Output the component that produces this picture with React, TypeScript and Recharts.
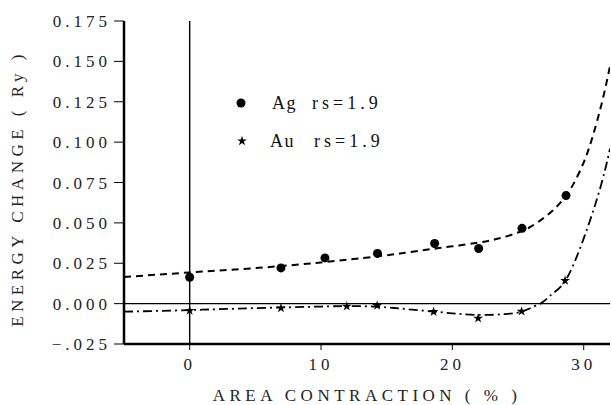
import { ComposedChart, Line, Scatter, XAxis, YAxis, ReferenceLine, Symbols } from "recharts";

// measured points
const agX = [0, 6.95, 10.3, 14.3, 18.65, 22.0, 25.3, 28.65];
const agY = [0.0163, 0.0221, 0.0283, 0.0311, 0.0372, 0.0341, 0.0466, 0.0669];
const auX = [0, 6.95, 11.96, 14.27, 18.57, 21.96, 25.27, 28.58];
const auY = [-0.0043, -0.0027, -0.0017, -0.0012, -0.005, -0.0091, -0.0048, 0.0142];

// fitted curves
const agFitX = [-5, 0, 5, 10, 14, 16, 18, 20, 22, 23.5, 25, 26, 27, 28, 29, 30, 30.7, 31.4, 32];
const agFitY = [0.0165, 0.0193, 0.022, 0.0255, 0.029, 0.031, 0.0333, 0.0355, 0.0378, 0.0403, 0.044, 0.0478, 0.0533, 0.0605, 0.071, 0.0875, 0.104, 0.125, 0.147];
const auFitX = [-5, 0, 5, 10, 12, 14, 16, 18, 20, 22, 24, 25.3, 26, 26.8, 27.6, 28.6, 29.8, 30.9, 31.6, 32];
const auFitY = [-0.005, -0.004, -0.0028, -0.0018, -0.0015, -0.0018, -0.003, -0.0045, -0.006, -0.007, -0.0065, -0.005, -0.0025, 0.0005, 0.006, 0.0142, 0.036, 0.062, 0.082, 0.096];

const xTicks = [0, 10, 20, 30];
const yTicks = [-0.025, 0, 0.025, 0.05, 0.075, 0.1, 0.125, 0.15, 0.175];

const zip = (xs: number[], ys: number[]) => xs.map((x, i) => ({ x, y: ys[i] }));
const agPts = zip(agX, agY);
const auPts = zip(auX, auY);
const agFit = zip(agFitX, agFitY);
const auFit = zip(auFitX, auFitY);

const font = "'Liberation Serif', 'DejaVu Serif', serif";
const tickStyle = { fill: "#222", fontSize: 17, fontFamily: font, letterSpacing: 4 };
const titleStyle = { fill: "#222", fontSize: 17, fontFamily: font, letterSpacing: 4.5 };

function fmtY(v: number) {
  if (v < 0) return "\u2212" + v.toFixed(3).replace("-0", "");
  return v.toFixed(3);
}

function LegendBox() {
  const row = { display: "flex", alignItems: "center", height: 38, fontFamily: font, fontSize: 18, color: "#111" };
  return (
    <div style={{ position: "absolute", left: 232, top: 84 }}>
      <div style={row}>
        <svg width={40} height={20}><circle cx={9} cy={10} r={4.5} fill="#000" /></svg>
        <span style={{ letterSpacing: 1.5, width: 40 }}>Ag</span>
        <span style={{ letterSpacing: 4 }}>rs=1.9</span>
      </div>
      <div style={row}>
        <svg width={38} height={20}><Symbols cx={10} cy={10} type="star" size={30} fill="#000" /></svg>
        <span style={{ letterSpacing: 1.5, width: 44 }}>Au</span>
        <span style={{ letterSpacing: 4 }}>rs=1.9</span>
      </div>
    </div>
  );
}

export default function App() {
  return (
    <div style={{ position: "absolute", left: 0, top: 0, width: 611, height: 405, background: "#fff" }}>
      <ComposedChart width={611} height={405} margin={{ top: 21, right: 1, left: 0, bottom: 0 }}>
        <XAxis
          xAxisId="b"
          type="number"
          dataKey="x"
          domain={[-5, 32]}
          ticks={xTicks}
          allowDataOverflow
          height={61}
          tick={tickStyle}
          tickSize={6}
          tickMargin={8}
          axisLine={{ stroke: "#000", strokeWidth: 2.5 }}
          tickLine={{ stroke: "#000" }}
          label={{ value: "AREA CONTRACTION ( % )", position: "insideBottom", offset: 4, style: titleStyle }}
        />
        <XAxis xAxisId="t" type="number" orientation="top" domain={[-5, 32]} height={0} tick={false} tickLine={false} axisLine={{ stroke: "#000", strokeWidth: 2.5 }} />
        <YAxis
          yAxisId="l"
          type="number"
          domain={[-0.025, 0.175]}
          ticks={yTicks}
          allowDataOverflow
          width={124}
          tick={tickStyle}
          tickFormatter={fmtY}
          tickSize={10}
          tickMargin={3}
          axisLine={{ stroke: "#000", strokeWidth: 2.5 }}
          tickLine={{ stroke: "#000" }}
          label={{ value: "ENERGY CHANGE ( Ry )", angle: -90, position: "insideLeft", offset: 17, dy: 6, style: { ...titleStyle, textAnchor: "middle" } }}
        />
        <YAxis yAxisId="r" orientation="right" domain={[-0.025, 0.175]} width={0} tick={false} tickLine={false} axisLine={{ stroke: "#000", strokeWidth: 1.2 }} />
        <ReferenceLine xAxisId="b" yAxisId="l" y={0} stroke="#000" strokeWidth={1.2} />
        <ReferenceLine xAxisId="b" yAxisId="l" x={0} stroke="#000" strokeWidth={1.4} />
        <Line xAxisId="b" yAxisId="l" data={agFit} dataKey="y" type="natural" stroke="#000" strokeWidth={2} strokeDasharray="7 5" dot={false} isAnimationActive={false} />
        <Line xAxisId="b" yAxisId="l" data={auFit} dataKey="y" type="natural" stroke="#000" strokeWidth={1.8} strokeDasharray="9 4 2 4" dot={false} isAnimationActive={false} />
        <Scatter
          xAxisId="b"
          yAxisId="l"
          data={agPts}
          dataKey="y"
          isAnimationActive={false}
          shape={(p: any) => <circle cx={p.cx} cy={p.cy} r={4.5} fill="#000" />}
        />
        <Scatter
          xAxisId="b"
          yAxisId="l"
          data={auPts}
          dataKey="y"
          isAnimationActive={false}
          shape={(p: any) => <Symbols cx={p.cx} cy={p.cy} type="star" size={30} fill="#000" />}
        />
      </ComposedChart>
      <LegendBox />
    </div>
  );
}
